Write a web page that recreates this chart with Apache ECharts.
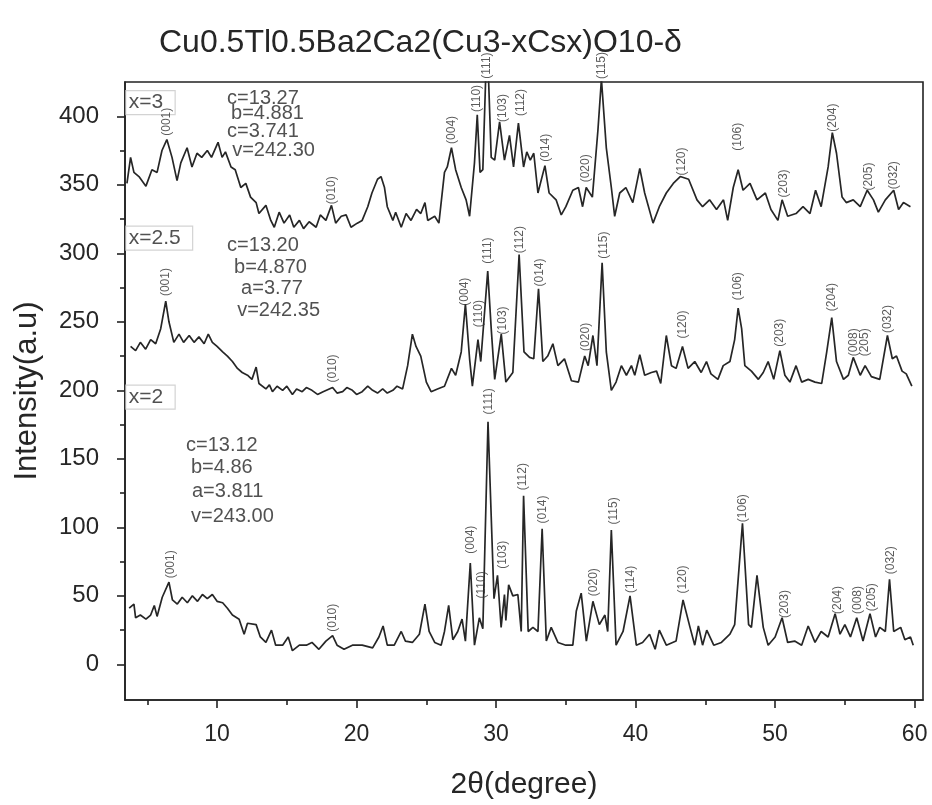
<!DOCTYPE html>
<html><head><meta charset="utf-8">
<script src="https://cdn.jsdelivr.net/npm/echarts@6/dist/echarts.min.js"></script>
<style>html,body{margin:0;padding:0;background:#fff}#c{width:932px;height:805px}</style>
</head><body><div id="c"></div>
<script>
// x = 3 pattern (offset)
const s3 = [[3.54,351],[3.8,370],[4.04,359],[4.4,356],[4.9,349],[5.33,361],[5.7,359],[6.05,375],[6.4,383],[6.77,370],[7.13,353],[7.4,366],[7.85,377],[8.2,363],[8.56,373],[8.9,370],[9.3,375],[9.6,370],[10.07,381],[10.36,370],[10.6,374],[11.0,363],[11.3,361],[11.7,348],[12.06,351],[12.4,341],[12.8,337],[13.0,329],[13.5,335],[13.85,324],[14.1,319],[14.45,330],[14.8,322],[15.2,328],[15.5,319],[15.9,324],[16.2,318],[16.6,323],[17.1,319],[17.4,328],[17.8,324],[18.2,335],[18.5,322],[18.9,327],[19.25,328],[19.6,319],[20.05,322],[20.4,324],[20.8,334],[21.1,344],[21.5,354],[21.75,356],[22.0,348],[22.2,334],[22.6,324],[22.8,330],[23.2,319],[23.55,329],[23.9,324],[24.3,332],[24.6,329],[24.9,337],[25.1,324],[25.6,327],[25.9,322],[26.3,359],[26.5,363],[26.8,377],[27.1,361],[27.5,348],[27.85,339],[28.1,327],[28.45,366],[28.65,401],[28.85,359],[29.05,361],[29.35,460],[29.65,370],[29.9,368],[30.25,396],[30.6,368],[30.96,386],[31.25,363],[31.6,395],[31.97,363],[32.2,374],[32.45,368],[32.7,373],[33.0,344],[33.5,364],[33.8,344],[34.3,339],[34.67,328],[35.0,334],[35.5,346],[35.9,348],[36.2,334],[36.46,348],[36.9,341],[37.3,390],[37.55,427],[37.9,377],[38.26,348],[38.5,327],[38.86,344],[39.3,348],[39.8,337],[40.3,362],[40.65,344],[41.25,322],[41.7,334],[42.2,344],[42.7,351],[43.2,356],[43.8,354],[44.4,339],[44.8,334],[45.3,339],[45.8,332],[46.3,339],[46.6,324],[47.0,348],[47.35,361],[47.7,346],[48.2,351],[48.7,339],[49.3,344],[49.7,332],[50.2,324],[50.5,339],[50.9,327],[51.5,329],[52.0,334],[52.5,329],[52.9,346],[53.3,334],[53.8,363],[54.1,388],[54.4,373],[54.8,341],[55.1,337],[55.6,339],[56.1,334],[56.6,346],[57.05,339],[57.4,330],[57.9,339],[58.5,346],[58.85,332],[59.2,337],[59.7,334]];
// x = 2.5 pattern (offset)
const s25 = [[3.8,232],[4.16,229],[4.5,235],[4.88,230],[5.24,237],[5.6,234],[5.96,245],[6.32,265],[6.55,250],[6.9,235],[7.27,241],[7.6,235],[8.0,240],[8.35,235],[8.7,239],[9.07,234],[9.37,241],[9.66,235],[10.0,232],[10.4,228],[10.74,225],[11.1,221],[11.46,216],[11.8,213],[12.18,211],[12.5,208],[12.8,217],[13.0,205],[13.5,201],[13.75,204],[13.97,199],[14.3,203],[14.7,200],[15.0,203],[15.4,197],[15.7,201],[16.1,199],[16.4,202],[16.8,200],[17.2,197],[17.6,199],[18.28,202],[18.6,198],[19.0,199],[19.3,202],[19.7,200],[20.0,197],[20.4,199],[20.8,203],[21.15,200],[21.5,198],[21.87,201],[22.2,198],[22.6,200],[22.9,203],[23.3,201],[23.66,218],[24.0,241],[24.26,232],[24.6,225],[25.0,206],[25.34,199],[25.8,201],[26.3,203],[26.8,216],[27.1,211],[27.5,228],[27.8,263],[28.1,223],[28.3,203],[28.7,237],[28.9,221],[29.4,287],[29.65,245],[29.9,208],[30.37,241],[30.7,206],[31.2,213],[31.65,299],[32.0,228],[32.4,224],[32.7,223],[33.04,274],[33.35,221],[33.7,225],[34.07,234],[34.43,218],[34.9,223],[35.4,207],[35.9,206],[36.35,225],[36.6,218],[36.94,240],[37.23,218],[37.6,293],[37.9,228],[38.26,200],[38.6,206],[38.98,218],[39.34,211],[39.7,218],[39.94,211],[40.3,226],[40.65,211],[41.13,213],[41.5,214],[41.8,205],[42.2,240],[42.57,218],[42.9,216],[43.36,232],[43.76,216],[44.24,221],[44.7,213],[45.08,221],[45.4,212],[45.9,208],[46.28,218],[46.76,221],[47.1,237],[47.35,260],[47.6,245],[47.83,218],[48.3,214],[48.8,208],[49.15,213],[49.5,221],[49.9,208],[50.34,229],[50.7,211],[51.06,206],[51.5,218],[51.9,206],[52.37,208],[52.86,206],[53.34,205],[53.7,228],[54.06,253],[54.4,221],[54.9,208],[55.25,211],[55.6,224],[56.1,211],[56.45,218],[56.9,210],[57.5,208],[58.05,240],[58.4,223],[58.7,225],[59.1,214],[59.4,212],[59.8,203]];
// x = 2 pattern
const s2 = [[3.7,41],[4.04,44],[4.16,34],[4.5,36],[4.9,33],[5.24,36],[5.5,43],[5.7,35],[6.07,49],[6.55,60],[6.8,47],[7.15,44],[7.5,49],[7.87,45],[8.23,50],[8.6,46],[8.95,51],[9.3,48],[9.66,51],[10.0,46],[10.4,45],[10.74,41],[11.1,36],[11.58,33],[11.94,22],[12.18,30],[12.8,29],[13.1,20],[13.5,16],[13.9,25],[14.2,14],[14.7,14],[15.1,20],[15.4,10],[15.9,14],[16.4,14],[16.8,16],[17.3,11],[17.8,17],[18.28,21],[18.6,14],[19.1,11],[19.7,14],[20.4,14],[21.15,12],[21.6,20],[21.9,28],[22.2,14],[22.7,14],[23.2,24],[23.5,17],[24.0,16],[24.5,22],[24.9,44],[25.2,24],[25.6,16],[26.06,14],[26.3,24],[26.6,43],[26.9,18],[27.25,24],[27.56,33],[27.8,17],[28.15,74],[28.45,14],[28.8,34],[29.05,26],[29.42,177],[29.85,48],[30.1,65],[30.36,27],[30.6,51],[30.7,32],[30.9,58],[31.2,50],[31.56,51],[31.8,24],[31.97,123],[32.3,24],[32.64,27],[33.0,24],[33.3,99],[33.6,17],[33.95,27],[34.43,16],[35.0,14],[35.5,14],[35.75,39],[36.1,52],[36.47,17],[36.94,46],[37.4,29],[37.8,36],[38.0,24],[38.26,98],[38.6,14],[39.1,24],[39.6,50],[40.05,14],[40.5,16],[41.0,22],[41.4,11],[41.7,25],[42.2,14],[42.9,17],[43.4,47],[43.9,27],[44.24,14],[44.5,28],[44.8,14],[45.1,25],[45.6,14],[46.15,16],[46.76,22],[47.1,29],[47.66,103],[48.1,29],[48.3,27],[48.7,65],[49.15,27],[49.5,14],[50.0,20],[50.5,34],[50.9,16],[51.4,17],[51.9,14],[52.37,28],[52.86,16],[53.3,24],[53.8,20],[54.3,37],[54.65,22],[55.0,29],[55.4,20],[55.85,34],[56.3,17],[56.8,37],[57.2,20],[57.5,27],[57.9,24],[58.2,62],[58.5,24],[59.0,27],[59.3,18],[59.7,20],[59.9,14]];

// peak index labels [2theta, y, text]
const hkl3 = [[6.4,396,'(001)'],[18.2,346,'(010)'],[26.8,390,'(004)'],[28.6,413,'(110)'],[29.35,437,'(111)'],[30.5,406,'(103)'],[31.75,410,'(112)'],[33.55,377,'(014)'],[36.45,362,'(020)'],[37.55,437,'(115)'],[43.3,367,'(120)'],[47.35,385,'(106)'],[50.6,351,'(203)'],[54.1,399,'(204)'],[56.7,356,'(205)'],[58.5,357,'(032)']];
const hkl25 = [[6.3,279,'(001)'],[18.3,216,'(010)'],[27.75,272,'(004)'],[28.75,256,'(110)'],[29.4,302,'(111)'],[30.5,251,'(103)'],[31.7,310,'(112)'],[33.1,286,'(014)'],[36.4,239,'(020)'],[37.7,306,'(115)'],[43.4,248,'(120)'],[47.3,276,'(106)'],[50.35,242,'(203)'],[54.05,268,'(204)'],[55.6,235,'(008)'],[56.4,235,'(205)'],[58.05,252,'(032)']];
const hkl2 = [[6.65,73,'(001)'],[18.3,34,'(010)'],[28.15,91,'(004)'],[28.95,58,'(110)'],[29.5,192,'(111)'],[30.5,80,'(103)'],[31.9,137,'(112)'],[33.35,113,'(014)'],[37.0,60,'(020)'],[38.4,112,'(115)'],[39.65,62,'(114)'],[43.4,62,'(120)'],[47.7,114,'(106)'],[50.7,44,'(203)'],[54.45,47,'(204)'],[55.9,47,'(008)'],[56.95,49,'(205)'],[58.25,76,'(032)']];
// sample tags and lattice parameters [2theta(left), y(center), text]
const tags = [[3.45,410,'x=3'],[3.45,311,'x=2.5'],[3.45,195,'x=2']];
const lattice = [[10.72,413,'c=13.27'],[11.0,402,'b=4.881'],[10.72,389,'c=3.741'],[11.08,375,'v=242.30'],
  [10.72,306,'c=13.20'],[11.22,290,'b=4.870'],[11.72,274,'a=3.77'],[11.44,258,'v=242.35'],
  [7.77,160,'c=13.12'],[8.13,144,'b=4.86'],[8.2,126,'a=3.811'],[8.13,108,'v=243.00']];
const xLabels = [10,20,30,40,50,60];
const xMinor = [5,15,25,35,45,55];
const yLabels = [0,50,100,150,200,250,300,350,400];
const yMinor = [25,75,125,175,225,275,325,375];

const FONT = "'Liberation Sans', Arial, sans-serif";
const INK = '#222';
const TXT = '#262626';
const chart = echarts.init(document.getElementById('c'), null, {renderer:'canvas'});

function lineSeries(d){
  return {type:'line', data:d, showSymbol:false, symbol:'none', clip:true, z:3,
    lineStyle:{color:'#262626', width:1.7}, animation:false};
}
function hklSeries(d){
  return {type:'scatter', data:d, symbolSize:0, clip:false, z:5, silent:true,
    label:{show:true, position:'inside', rotate:90, formatter:p=>p.data[2],
      fontFamily:FONT, fontSize:12, color:'#333'}};
}

chart.setOption({
  animation:false,
  backgroundColor:'#fff',
  title:{text:'Cu0.5Tl0.5Ba2Ca2(Cu3-xCsx)O10-δ', left:154, top:22,
    textStyle:{fontFamily:FONT, fontWeight:'normal', fontSize:32, color:TXT}},
  grid:{left:125, right:9, top:82, bottom:102, show:true, borderColor:INK, borderWidth:1.6, backgroundColor:'transparent'},
  xAxis:[
    {type:'value', min:3.4, max:60.6, position:'bottom',
      name:'2θ(degree)', nameLocation:'middle', nameGap:70,
      nameTextStyle:{fontFamily:FONT, fontSize:30, color:TXT},
      axisLine:{show:true, onZero:false, lineStyle:{color:INK, width:1.6}},
      axisTick:{show:true, customValues:xLabels, length:8, lineStyle:{color:INK, width:1.6}},
      axisLabel:{customValues:xLabels, fontFamily:FONT, fontSize:23, color:TXT, margin:23},
      splitLine:{show:false}},
    {type:'value', min:3.4, max:60.6, position:'bottom',
      axisLine:{show:false, onZero:false}, splitLine:{show:false},
      axisTick:{show:true, customValues:xMinor, length:5, lineStyle:{color:INK, width:1.6}},
      axisLabel:{show:false}}
  ],
  yAxis:[
    {type:'value', min:-26, max:425, position:'left',
      name:'Intensity(a.u)', nameLocation:'middle', nameGap:82, nameRotate:90,
      nameTextStyle:{fontFamily:FONT, fontSize:31, color:TXT},
      axisLine:{show:true, onZero:false, lineStyle:{color:INK, width:1.6}},
      axisTick:{show:true, customValues:yLabels, length:8, lineStyle:{color:INK, width:1.6}},
      axisLabel:{customValues:yLabels, fontFamily:FONT, fontSize:24, color:TXT, margin:26},
      splitLine:{show:false}},
    {type:'value', min:-26, max:425, position:'left',
      axisLine:{show:false, onZero:false}, splitLine:{show:false},
      axisTick:{show:true, customValues:yMinor, length:5, lineStyle:{color:INK, width:1.6}},
      axisLabel:{show:false}}
  ],
  series:[
    lineSeries(s3), lineSeries(s25), lineSeries(s2),
    hklSeries(hkl3), hklSeries(hkl25), hklSeries(hkl2),
    {type:'scatter', data:tags, symbolSize:0, clip:false, z:4, silent:true,
      label:{show:true, position:'inside', align:'left', verticalAlign:'middle', formatter:p=>p.data[2],
        fontFamily:FONT, fontSize:21, color:TXT, borderColor:'#c8c8c8', borderWidth:1.2,
        padding:[2,12,1,3]}},
    {type:'scatter', data:lattice, symbolSize:0, clip:false, z:6, silent:true,
      label:{show:true, position:'inside', align:'left', verticalAlign:'middle', formatter:p=>p.data[2],
        fontFamily:FONT, fontSize:20, color:TXT}}
  ]
});
</script></body></html>
